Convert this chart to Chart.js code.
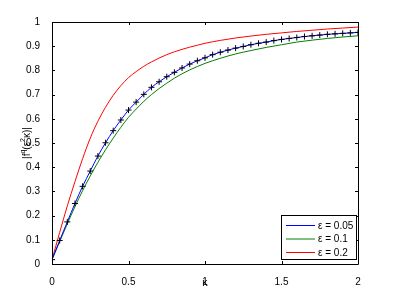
<!DOCTYPE html>
<html><head><meta charset="utf-8">
<script src="https://cdn.jsdelivr.net/npm/chart.js@4.4.0/dist/chart.umd.min.js"></script>
<style>html,body{margin:0;padding:0;background:#fff;}canvas{display:block;}</style>
</head><body>
<div style="width:395px;height:297px;position:relative"><canvas id="c" width="395" height="297"></canvas></div>
<script>
// ---- data ----
const kappa = [0,0.05,0.1,0.15,0.2,0.25,0.3,0.35,0.4,0.45,0.5,0.55,0.6,0.65,0.7,0.75,0.8,0.85,0.9,0.95,1.0,
  1.05,1.1,1.15,1.2,1.25,1.3,1.35,1.4,1.45,1.5,1.55,1.6,1.65,1.7,1.75,1.8,1.85,1.9,1.95,2.0];
const blueVals = [0.018,0.097,0.174,0.250,0.321,0.384,0.446,0.501,0.551,0.595,0.636,0.669,0.701,0.730,0.753,0.774,0.792,0.810,0.826,0.840,0.852,
  0.865,0.875,0.884,0.892,0.899,0.906,0.912,0.917,0.923,0.928,0.932,0.936,0.940,0.943,0.946,0.949,0.951,0.953,0.955,0.957];
const kappaRG = [0,0.05,0.1,0.15,0.2,0.25,0.3,0.35,0.4,0.45,0.5,0.55,0.6,0.65,0.7,0.75,0.8,0.85,0.9,0.95,1.0,
  1.1,1.2,1.3,1.4,1.5,1.6,1.7,1.8,1.9,2.0];
const greenVals = [0.018,0.092,0.166,0.237,0.303,0.364,0.420,0.472,0.520,0.565,0.606,0.640,0.672,0.700,0.725,0.747,0.768,0.786,0.802,0.816,0.829,
  0.850,0.868,0.882,0.895,0.906,0.917,0.925,0.932,0.938,0.943];
const redVals = [0.018,0.130,0.240,0.340,0.435,0.520,0.590,0.648,0.697,0.737,0.770,0.795,0.817,0.835,0.851,0.865,0.877,0.887,0.896,0.904,0.912,
  0.924,0.934,0.942,0.949,0.955,0.961,0.966,0.971,0.975,0.979];
const xTicks = [0,0.5,1,1.5,2];
const yTicks = [0,0.1,0.2,0.3,0.4,0.5,0.6,0.7,0.8,0.9,1];
const xTickLabels = ['0','0.5','1','1.5','2'];
const yTickLabels = ['0','0.1','0.2','0.3','0.4','0.5','0.6','0.7','0.8','0.9','1'];
const seriesLabels = ['ε = 0.05','ε = 0.1','ε = 0.2'];
const xTitle = 'κ';

const FONT = '"Liberation Sans", Arial, Helvetica, sans-serif';
const toXY = (xs, ys) => xs.map((x,i)=>({x:x, y:ys[i]}));

const frame = {
  id:'frame',
  afterDatasetsDraw(chart){
    const {ctx, chartArea:a, scales:{x, y}} = chart;
    ctx.save();
    ctx.strokeStyle = '#000'; ctx.lineWidth = 1;
    ctx.beginPath();
    ctx.rect(Math.round(a.left)+0.5, Math.round(a.top)+0.5, Math.round(a.right-a.left), Math.round(a.bottom-a.top));
    ctx.stroke();
    const L = 3;
    ctx.beginPath();
    xTicks.forEach(v=>{
      const px = Math.round(x.getPixelForValue(v))+0.5;
      ctx.moveTo(px, a.bottom); ctx.lineTo(px, a.bottom-L);
      ctx.moveTo(px, a.top); ctx.lineTo(px, a.top+L);
    });
    yTicks.forEach(v=>{
      const py = Math.round(y.getPixelForValue(v))+0.5;
      ctx.moveTo(a.left, py); ctx.lineTo(a.left+L, py);
      ctx.moveTo(a.right, py); ctx.lineTo(a.right-L, py);
    });
    ctx.stroke();

    // legend (south-east, inside)
    const bx = 281.5, by = 215.5, bw = 75, bh = 44;
    ctx.fillStyle = '#fff';
    ctx.fillRect(bx, by, bw, bh);
    ctx.strokeRect(bx, by, bw, bh);
    const order = [0,1,2];
    const rowsY = [225.5, 239, 252.5];
    ctx.font = '10px ' + FONT;
    ctx.textBaseline = 'middle'; ctx.textAlign = 'left';
    order.forEach((di, r)=>{
      const ds = chart.data.datasets[di];
      ctx.strokeStyle = ds.borderColor;
      ctx.beginPath(); ctx.moveTo(286, rowsY[r]); ctx.lineTo(315, rowsY[r]); ctx.stroke();
      ctx.fillStyle = '#000';
      ctx.fillText(ds.label, 318, rowsY[r]+0.5);
    });

    // x title
    ctx.textAlign = 'center';
    ctx.font = '10px "DejaVu Sans", ' + FONT;
    ctx.fillText(xTitle, x.getPixelForValue(1), 283);

    // y title with superscripts: |f^q(ε^2κ)|
    const parts = [['|f',0],['q',1],['(ε',0],['2',1],['κ)|',0]];
    const big = '10px ' + FONT, small = '7px ' + FONT;
    let total = 0;
    parts.forEach(p=>{ ctx.font = p[1]?small:big; total += ctx.measureText(p[0]).width; });
    ctx.translate(26, (a.top+a.bottom)/2);
    ctx.rotate(-Math.PI/2);
    ctx.textAlign = 'left'; ctx.textBaseline = 'alphabetic';
    let cx = -total/2;
    parts.forEach(p=>{
      ctx.font = p[1]?small:big;
      ctx.fillText(p[0], cx, p[1] ? -1 : 3.5);
      cx += ctx.measureText(p[0]).width;
    });
    ctx.restore();
  }
};

new Chart(document.getElementById('c'), {
  type:'scatter',
  data:{datasets:[
    {label:seriesLabels[0], data:toXY(kappa, blueVals), showLine:true, borderColor:'#0000ff', borderWidth:1, pointRadius:0, cubicInterpolationMode:'monotone', order:1},
    {label:seriesLabels[1], data:toXY(kappaRG, greenVals), showLine:true, borderColor:'#008000', borderWidth:1, pointRadius:0, cubicInterpolationMode:'monotone', order:2},
    {label:seriesLabels[2], data:toXY(kappaRG, redVals), showLine:true, borderColor:'#ff0000', borderWidth:1, pointRadius:0, cubicInterpolationMode:'monotone', order:3},
    {label:'markers', data:toXY(kappa, blueVals), showLine:false, pointStyle:'cross', pointRadius:3, borderColor:'#000', backgroundColor:'#000', pointBorderWidth:1, order:0}
  ]},
  options:{
    responsive:false, animation:false, devicePixelRatio:1,
    layout:{padding:{top:22, right:37, left:0, bottom:0}},
    plugins:{legend:{display:false}, tooltip:{enabled:false}},
    scales:{
      x:{type:'linear', min:0, max:2,
        afterBuildTicks:s=>{ s.ticks = xTicks.map(v=>({value:v})); },
        afterFit:s=>{ s.height = 33; },
        grid:{display:false}, border:{display:false},
        ticks:{color:'#000', font:{family:FONT, size:10}, padding:4, maxRotation:0, autoSkip:false,
          callback:(v)=>xTickLabels[xTicks.indexOf(v)]}
      },
      y:{type:'linear', min:0, max:1,
        afterBuildTicks:s=>{ s.ticks = yTicks.map(v=>({value:v})); },
        afterFit:s=>{ s.width = 52; },
        grid:{display:false}, border:{display:false},
        ticks:{color:'#000', font:{family:FONT, size:10}, padding:4, autoSkip:false,
          callback:(v)=>yTickLabels[yTicks.indexOf(v)]}
      }
    }
  },
  plugins:[frame]
});
</script>
</body></html>
